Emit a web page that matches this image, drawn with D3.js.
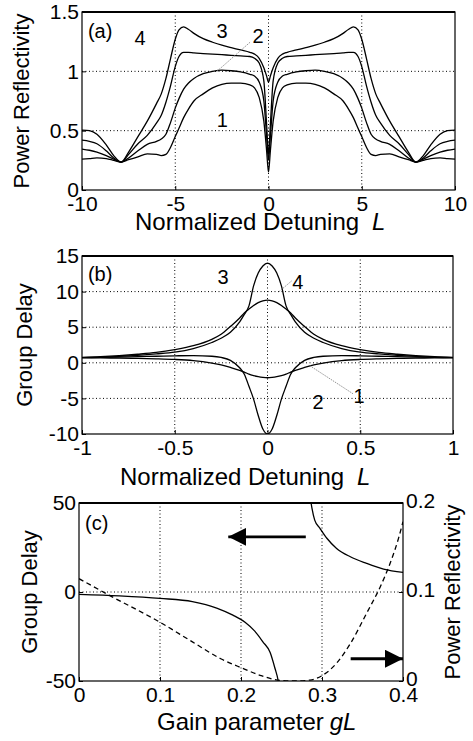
<!DOCTYPE html>
<html>
<head>
<meta charset="utf-8">
<script src="https://cdn.jsdelivr.net/npm/d3@7"></script>
<style>
  body { margin: 0; background: #fff; }
  text { font-family: "Liberation Sans", Arial, sans-serif; }
</style>
</head>
<body>
<div id="chart"></div>
<script>
// (a) power reflectivity, read for L >= 0 (the curves are symmetric about L = 0)
var detA = [0, 0.1, 0.25, 0.5, 0.75, 1, 1.5, 2, 2.5, 3, 3.5, 4, 4.3, 4.55, 4.8, 5, 5.25, 5.5, 5.75, 6, 6.5, 7, 7.5, 7.9, 8.3, 8.7, 9.2, 9.6, 10];
var reflA1 = [0.15, 0.33, 0.58, 0.78, 0.86, 0.885, 0.9, 0.9, 0.89, 0.86, 0.81, 0.75, 0.68, 0.61, 0.52, 0.45, 0.36, 0.3, 0.29, 0.3, 0.305, 0.28, 0.255, 0.235, 0.25, 0.265, 0.27, 0.265, 0.26];
var reflA2 = [0.25, 0.45, 0.75, 0.91, 0.96, 0.975, 0.995, 1.005, 1.01, 1.0, 0.98, 0.94, 0.9, 0.85, 0.77, 0.69, 0.57, 0.47, 0.43, 0.41, 0.385, 0.33, 0.27, 0.235, 0.26, 0.29, 0.32, 0.335, 0.345];
var reflA3 = [0.3, 0.55, 0.92, 1.07, 1.11, 1.125, 1.13, 1.135, 1.14, 1.145, 1.15, 1.155, 1.16, 1.16, 1.125, 1.04, 0.88, 0.74, 0.63, 0.565, 0.46, 0.39, 0.3, 0.235, 0.27, 0.33, 0.39, 0.41, 0.42];
var reflA4 = [0.91, 0.96, 1.03, 1.11, 1.145, 1.16, 1.18, 1.2, 1.22, 1.245, 1.275, 1.32, 1.355, 1.375, 1.35, 1.27, 1.11, 0.94, 0.81, 0.73, 0.58, 0.45, 0.32, 0.235, 0.29, 0.38, 0.47, 0.5, 0.505];

// (b) group delay, read for L >= 0 (symmetric)
var detB = [0, 0.025, 0.05, 0.075, 0.1, 0.125, 0.15, 0.2, 0.25, 0.3, 0.4, 0.5, 0.6, 0.7, 0.8, 0.9, 1];
var delayB1 = [-2.1, -2.05, -1.95, -1.8, -1.6, -1.3, -1.05, -0.65, -0.3, -0.05, 0.3, 0.47, 0.56, 0.62, 0.66, 0.69, 0.72];
var delayB2 = [-10, -9.3, -7.4, -5.1, -3.3, -1.6, -0.7, 0.35, 0.75, 0.92, 1.0, 0.98, 0.92, 0.86, 0.8, 0.76, 0.72];
var delayB3 = [8.8, 8.7, 8.45, 8.05, 7.55, 7.0, 6.3, 5.1, 4.0, 3.3, 2.4, 1.85, 1.45, 1.2, 1.0, 0.85, 0.75];
var delayB4 = [14.0, 13.6, 12.6, 10.8, 8.0, 6.8, 5.75, 4.3, 3.45, 2.85, 2.0, 1.5, 1.25, 1.05, 0.9, 0.8, 0.72];

// (c) group delay (left axis) and power reflectivity (right axis) vs gL
var gainDelayLow = [0, 0.05, 0.1, 0.14, 0.17, 0.19, 0.205, 0.217, 0.227, 0.236, 0.242, 0.246, 0.248];
var delayLow = [-1.3, -2.2, -3.6, -5.4, -9, -13, -17, -22, -28, -34, -43, -50, -56];
var gainDelayHigh = [0.284, 0.2865, 0.291, 0.2975, 0.306, 0.318, 0.335, 0.355, 0.376, 0.4];
var delayHigh = [58, 50, 40.4, 35.8, 30.2, 24.5, 19.8, 16.1, 12.9, 11];
var gainRefl = [0, 0.038, 0.1, 0.14, 0.175, 0.2, 0.225, 0.245, 0.265, 0.285, 0.3, 0.318, 0.335, 0.355, 0.372, 0.384, 0.395, 0.4];
var reflC = [0.115, 0.096, 0.066, 0.044, 0.025, 0.015, 0.006, 0.001, 0, 0.001, 0.006, 0.02, 0.042, 0.076, 0.106, 0.132, 0.162, 0.179];

var width = 473, height = 741;
var tickFont = 21, titleFont = 24, yTitleFont = 22, labelFont = 20;

var svg = d3.select("#chart").append("svg")
    .attr("width", width)
    .attr("height", height);

// mirror a half curve about 0
function mirror(xs, ys) {
    var pts = [];
    for (var i = xs.length - 1; i > 0; i--) pts.push([-xs[i], ys[i]]);
    for (var j = 0; j < xs.length; j++) pts.push([xs[j], ys[j]]);
    return pts;
}
function pairs(xs, ys) {
    return xs.map(function (d, i) { return [d, ys[i]]; });
}

// frame, dotted grid and clip for one panel
function frame(id, x, y, xGrid, yGrid) {
    var x0 = x.range()[0], x1 = x.range()[1], y0 = y.range()[1], y1 = y.range()[0];
    svg.append("clipPath").attr("id", id)
        .append("rect").attr("x", x0).attr("y", y0).attr("width", x1 - x0).attr("height", y1 - y0);
    var g = svg.append("g");
    g.selectAll(".gx").data(xGrid).enter().append("line")
        .attr("x1", function (d) { return x(d); }).attr("x2", function (d) { return x(d); })
        .attr("y1", y0).attr("y2", y1)
        .attr("stroke", "#000").attr("stroke-width", 1).attr("stroke-dasharray", "1,2.5");
    g.selectAll(".gy").data(yGrid).enter().append("line")
        .attr("y1", function (d) { return y(d); }).attr("y2", function (d) { return y(d); })
        .attr("x1", x0).attr("x2", x1)
        .attr("stroke", "#000").attr("stroke-width", 1).attr("stroke-dasharray", "1,2.5");
    return g;
}
function box(x, y) {
    var x0 = x.range()[0], x1 = x.range()[1], y0 = y.range()[1], y1 = y.range()[0];
    svg.append("rect").attr("x", x0).attr("y", y0).attr("width", x1 - x0).attr("height", y1 - y0)
        .attr("fill", "none").attr("stroke", "#000").attr("stroke-width", 1.2);
    svg.append("line").attr("x1", x0).attr("x2", x1).attr("y1", y0).attr("y2", y0)
        .attr("stroke", "#000").attr("stroke-width", 2);
}
function styleAxis(g) {
    g.select(".domain").remove();
    g.attr("font-size", tickFont).attr("font-family", "Liberation Sans, Arial, sans-serif");
    g.selectAll("text").attr("fill", "#000");
    return g;
}
function xAxis(x, y, vals) {
    var g = svg.append("g").attr("transform", "translate(0," + y.range()[0] + ")")
        .call(d3.axisBottom(x).tickValues(vals).tickSize(-4).tickPadding(6)
            .tickFormat(function (d) { return String(d); }));
    return styleAxis(g);
}
function yAxis(x, y, vals, right) {
    var ax = right ? d3.axisRight(y) : d3.axisLeft(y);
    var g = svg.append("g").attr("transform", "translate(" + (right ? x.range()[1] : x.range()[0]) + ",0)")
        .call(ax.tickValues(vals).tickSize(-4).tickPadding(3)
            .tickFormat(function (d) { return String(d); }));
    return styleAxis(g);
}
function curve(x, y, pts, clip, dash) {
    var line = d3.line()
        .x(function (d) { return x(d[0]); })
        .y(function (d) { return y(d[1]); })
        .curve(d3.curveMonotoneX);
    svg.append("path")
        .attr("d", line(pts))
        .attr("clip-path", "url(#" + clip + ")")
        .attr("fill", "none")
        .attr("stroke", "#000")
        .attr("stroke-width", 1.3)
        .attr("stroke-dasharray", dash || null);
}
function label(x, y, px, py, txt, anchor) {
    svg.append("text").attr("x", x(px)).attr("y", y(py))
        .attr("text-anchor", anchor || "middle")
        .attr("font-size", labelFont)
        .text(txt);
}
function leader(x, y, p0, p1) {
    svg.append("line")
        .attr("x1", x(p0[0])).attr("y1", y(p0[1]))
        .attr("x2", x(p1[0])).attr("y2", y(p1[1]))
        .attr("stroke", "#888").attr("stroke-width", 0.9).attr("stroke-dasharray", "1.5,1");
}
function yTitle(xPos, yPos, txt) {
    svg.append("text")
        .attr("transform", "translate(" + xPos + "," + yPos + ") rotate(-90)")
        .attr("text-anchor", "middle")
        .attr("font-size", yTitleFont)
        .text(txt);
}
function xTitle(xPos, yPos, txt, ital, gap) {
    var t = svg.append("text").attr("x", xPos).attr("y", yPos).attr("font-size", titleFont);
    t.append("tspan").text(txt);
    t.append("tspan").attr("dx", gap).attr("font-style", "italic").text(ital);
}

// ---------- (a) ----------
var xA = d3.scaleLinear().domain([-10, 10]).range([82, 455]);
var yA = d3.scaleLinear().domain([0, 1.5]).range([190, 12]);
frame("clipA", xA, yA, [-5, 0, 5], [0.5, 1]);
[reflA1, reflA2, reflA3, reflA4].forEach(function (r) {
    curve(xA, yA, mirror(detA, r), "clipA");
});
box(xA, yA);
xAxis(xA, yA, [-10, -5, 0, 5, 10]);
yAxis(xA, yA, [0, 0.5, 1, 1.5]);
label(xA, yA, -9.68, 1.28, "(a)", "start");
label(xA, yA, -6.89, 1.22, "4");
label(xA, yA, -2.49, 1.28, "3");
label(xA, yA, -0.56, 1.24, "2");
label(xA, yA, -2.47, 0.53, "1");
leader(xA, yA, [-0.99, 1.245], [-2.8, 0.995]);
yTitle(29, 101, "Power Reflectivity");
xTitle(135, 230, "Normalized Detuning", "L", 13);

// ---------- (b) ----------
var xB = d3.scaleLinear().domain([-1, 1]).range([82, 453]);
var yB = d3.scaleLinear().domain([-10, 15]).range([434, 256]);
frame("clipB", xB, yB, [-0.5, 0, 0.5], [10, 5, 0, -5]);
[delayB1, delayB2, delayB3, delayB4].forEach(function (r) {
    curve(xB, yB, mirror(detB, r), "clipB");
});
box(xB, yB);
xAxis(xB, yB, [-1, -0.5, 0, 0.5, 1]);
yAxis(xB, yB, [-10, -5, 0, 5, 10, 15]);
label(xB, yB, -0.968, 11.5, "(b)", "start");
label(xB, yB, -0.24, 11.1, "3");
label(xB, yB, 0.164, 10.4, "4");
label(xB, yB, 0.272, -6.46, "2");
label(xB, yB, 0.493, -5.6, "1");
leader(xB, yB, [0.13, 11.5], [0.058, 9.9]);
leader(xB, yB, [0.461, -4.35], [0.229, -0.42]);
yTitle(32, 345, "Group Delay");
xTitle(120, 485, "Normalized Detuning", "L", 13);

// ---------- (c) ----------
var xC = d3.scaleLinear().domain([0, 0.4]).range([79, 403]);
var yC = d3.scaleLinear().domain([-50, 50]).range([681, 503]);
var yCR = d3.scaleLinear().domain([0, 0.2]).range([681, 503]);
frame("clipC", xC, yC, [0.1, 0.2, 0.3], [0]);
curve(xC, yC, pairs(gainDelayLow, delayLow), "clipC");
curve(xC, yC, pairs(gainDelayHigh, delayHigh), "clipC");
curve(xC, yCR, pairs(gainRefl, reflC), "clipC", "5,3.5");
box(xC, yC);
xAxis(xC, yC, [0, 0.1, 0.2, 0.3, 0.4]);
yAxis(xC, yC, [-50, 0, 50]);
yAxis(xC, yCR, [0, 0.1, 0.2], true).selectAll("text").attr("dy", "0.2em");
label(xC, yC, 0.0074, 34.8, "(c)", "start");

// arrows pointing to the axis each curve belongs to
svg.append("defs").append("marker")
    .attr("id", "head").attr("viewBox", "0 0 10 10")
    .attr("refX", 10).attr("refY", 5)
    .attr("markerWidth", 6.5).attr("markerHeight", 6.5)
    .attr("markerUnits", "strokeWidth")
    .attr("orient", "auto")
    .append("path").attr("d", "M0,0 L10,5 L0,10 Z").attr("fill", "#000");
svg.append("line")
    .attr("x1", xC(0.28)).attr("y1", yC(31))
    .attr("x2", xC(0.1843)).attr("y2", yC(31))
    .attr("stroke", "#000").attr("stroke-width", 2.8).attr("marker-end", "url(#head)");
svg.append("line")
    .attr("x1", xC(0.3354)).attr("y1", yCR(0.025))
    .attr("x2", xC(0.4)).attr("y2", yCR(0.025))
    .attr("stroke", "#000").attr("stroke-width", 2.8).attr("marker-end", "url(#head)");

yTitle(37, 592, "Group Delay");
svg.append("text")
    .attr("transform", "translate(460,592) rotate(-90)")
    .attr("text-anchor", "middle")
    .attr("font-size", yTitleFont)
    .text("Power Reflectivity");
xTitle(157, 730, "Gain parameter", "gL", 6);
</script>
</body>
</html>
